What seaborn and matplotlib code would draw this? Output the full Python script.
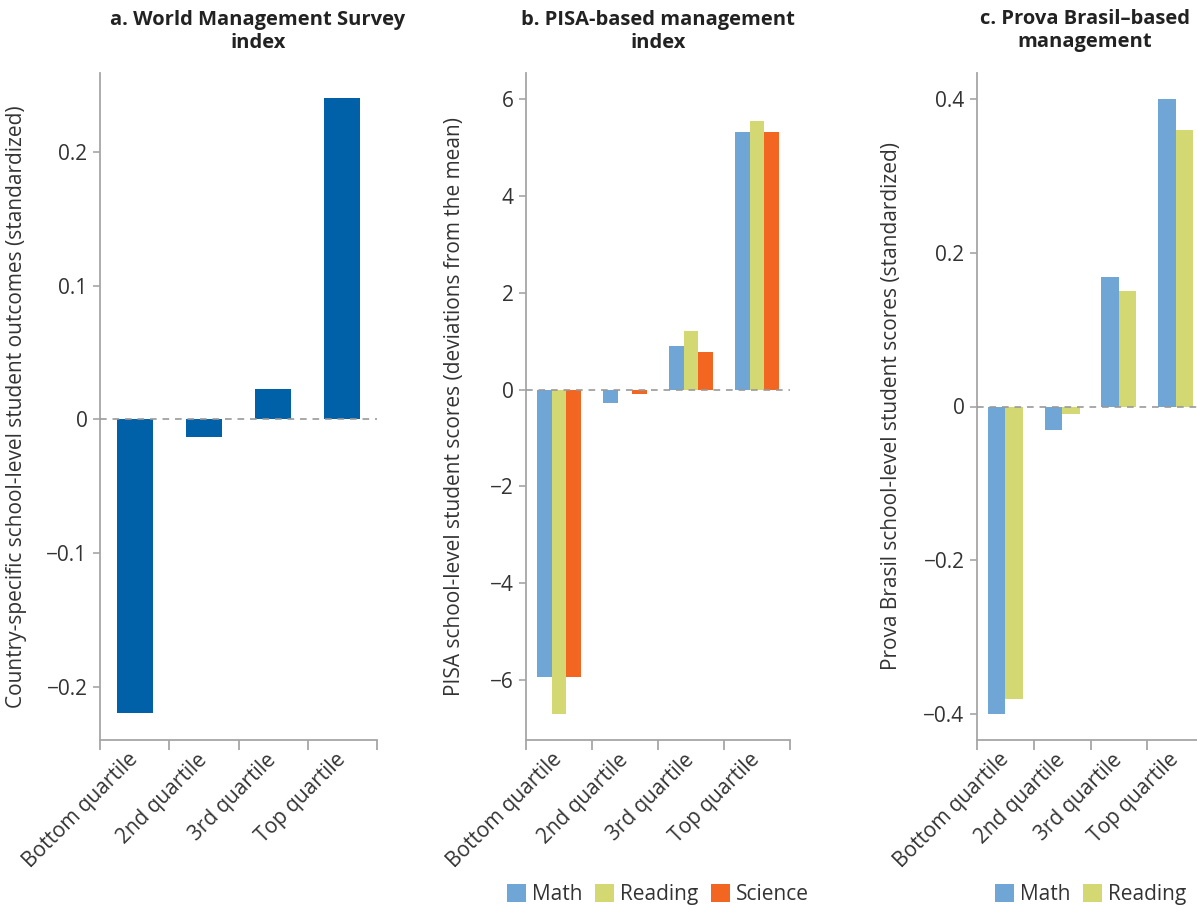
import numpy as np
import pandas as pd
import matplotlib
matplotlib.use("Agg")
import matplotlib.pyplot as plt
import seaborn as sns

# data
quartiles = ["Bottom quartile", "2nd quartile", "3rd quartile", "Top quartile"]

wms_values = [-0.220, -0.013, 0.0225, 0.240]

pisa_math = [-5.93, -0.27, 0.91, 5.32]
pisa_reading = [-6.71, -0.01, 1.22, 5.55]
pisa_science = [-5.94, -0.10, 0.77, 5.32]

prova_math = [-0.400, -0.031, 0.169, 0.400]
prova_reading = [-0.380, -0.010, 0.150, 0.360]

titles = ["a. World Management Survey\nindex",
          "b. PISA-based management\nindex",
          "c. Prova Brasil\u2013based\nmanagement"]
ylabels = ["Country-specific school-level student outcomes (standardized)",
           "PISA school-level student scores (deviations from the mean)",
           "Prova Brasil school-level student scores (standardized)"]

dark_blue = "#0061A8"
subject_colors = {"Math": "#6FA6D6", "Reading": "#D3D873", "Science": "#F26622"}
spine_gray = "#A6A6A6"
text_color = "#333333"

sns.set_theme(style="white")
plt.rcParams["font.family"] = ["Open Sans", "DejaVu Sans"]
plt.rcParams["axes.unicode_minus"] = True

wms_df = pd.DataFrame({"quartile": quartiles, "value": wms_values})
pisa_df = pd.DataFrame({
    "quartile": quartiles * 3,
    "subject": ["Math"] * 4 + ["Reading"] * 4 + ["Science"] * 4,
    "value": pisa_math + pisa_reading + pisa_science,
})
prova_df = pd.DataFrame({
    "quartile": quartiles * 2,
    "subject": ["Math"] * 4 + ["Reading"] * 4,
    "value": prova_math + prova_reading,
})

W, H = 1197, 909
fig = plt.figure(figsize=(W / 100, H / 100), dpi=100)

def px_axes(x0, x1, y0, y1):
    return fig.add_axes([x0 / W, 1 - y1 / H, (x1 - x0) / W, (y1 - y0) / H])

ax_a = px_axes(100, 377, 73, 740)
ax_b = px_axes(526, 790, 73, 740)
ax_c = px_axes(977, 1204, 73, 740)

bar_kw = dict(errorbar=None, saturation=1, linewidth=0, edgecolor="none")
sns.barplot(data=wms_df, x="quartile", y="value", color=dark_blue,
            width=0.52, ax=ax_a, **bar_kw)
sns.barplot(data=pisa_df, x="quartile", y="value", hue="subject",
            palette=subject_colors, width=0.68, gap=0, ax=ax_b, **bar_kw)
sns.barplot(data=prova_df, x="quartile", y="value", hue="subject",
            palette=subject_colors, width=0.62, gap=0, ax=ax_c, **bar_kw)

ax_a.set_ylim(-0.24, 0.259)
ax_a.set_yticks([-0.2, -0.1, 0, 0.1, 0.2])
ax_a.set_yticklabels(["\u22120.2", "\u22120.1", "0", "0.1", "0.2"])
ax_b.set_ylim(-7.24, 6.54)
ax_b.set_yticks([-6, -4, -2, 0, 2, 4, 6])
ax_b.set_yticklabels(["\u22126", "\u22124", "\u22122", "0", "2", "4", "6"])
ax_c.set_ylim(-0.434, 0.434)
ax_c.set_yticks([-0.4, -0.2, 0, 0.2, 0.4])
ax_c.set_yticklabels(["\u22120.4", "\u22120.2", "0", "0.2", "0.4"])

label_x = [-0.264, -0.231, -0.330]
title_x = [258, 658, 1085]
fs = 15

for ax, title, ylab, lx, tx in zip([ax_a, ax_b, ax_c], titles, ylabels, label_x, title_x):
    ax.set_xlim(-0.5, 3.5)
    ax.axhline(0, color="#999999", lw=1.2, ls=(0, (4, 3.5)), zorder=5)
    for side in ["top", "right"]:
        ax.spines[side].set_visible(False)
    for side in ["left", "bottom"]:
        ax.spines[side].set_color(spine_gray)
        ax.spines[side].set_linewidth(1.3)
    ax.set_xticks(range(4))
    ax.set_xticklabels(quartiles, rotation=45, ha="right", va="center",
                       rotation_mode="anchor", fontsize=fs, color=text_color)
    ax.set_xticks(np.arange(-0.5, 4, 1), minor=True)
    ax.tick_params(axis="x", which="major", length=0, pad=12)
    ax.tick_params(axis="x", which="minor", length=7, width=1.3, color=spine_gray, bottom=True)
    ax.tick_params(axis="y", length=5, width=1.2, color=spine_gray, left=True,
                   labelsize=fs, labelcolor=text_color, pad=4)
    ax.set_xlabel("")
    ax.set_ylabel(ylab, fontsize=fs, color=text_color)
    ax.yaxis.set_label_coords(lx, 0.5)
    fig.text(tx / W, 1 - 31 / H, title, ha="center", va="center",
             fontsize=14.5, fontweight="bold", color="#222222", linespacing=1.2)

for ax, ncol in [(ax_b, 3), (ax_c, 2)]:
    handles, labels = ax.get_legend_handles_labels()
    ax.get_legend().remove()
    leg = ax.legend(handles, labels, loc="center", bbox_to_anchor=(0.5, -0.232),
                    ncol=ncol, frameon=False, fontsize=fs, handlelength=0.9,
                    handleheight=0.9, handletextpad=0.3, columnspacing=0.6)
    for t in leg.get_texts():
        t.set_color(text_color)

fig.savefig("out.png", dpi=100)
